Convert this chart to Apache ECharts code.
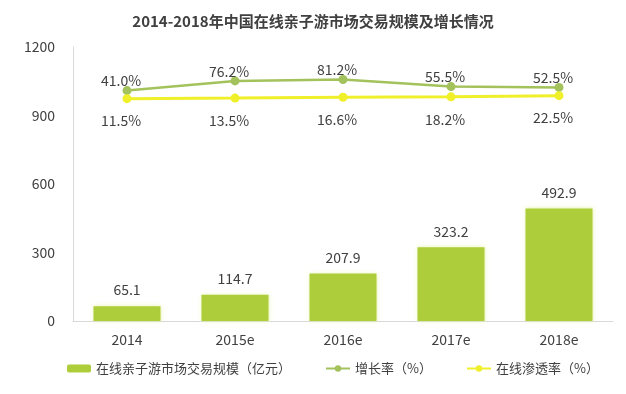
<!DOCTYPE html>
<html>
<head>
<meta charset="utf-8">
<script src="https://cdn.jsdelivr.net/npm/echarts@6/dist/echarts.min.js"></script>
<style>html,body{margin:0;padding:0;background:#fff;}#c{width:626px;height:394px;}</style>
</head>
<body>
<div id="c"></div>
<script>
const categories = ['2014', '2015e', '2016e', '2017e', '2018e'];
const marketSize = [65.1, 114.7, 207.9, 323.2, 492.9];
const growthRate = [41.0, 76.2, 81.2, 55.5, 52.5];
const penetration = [11.5, 13.5, 16.6, 18.2, 22.5];
const yTicks = [0, 300, 600, 900, 1200];
const seriesNames = ['在线亲子游市场交易规模（亿元）', '增长率（%）', '在线渗透率（%）'];

const FONT = '"Noto Sans CJK SC", "Noto Sans", sans-serif';
const chart = echarts.init(document.getElementById('c'), null, {renderer: 'canvas'});
chart.setOption({
  animation: false,
  backgroundColor: '#ffffff',
  textStyle: {fontFamily: FONT},
  title: {
    text: '2014-2018年中国在线亲子游市场交易规模及增长情况',
    left: 'center',
    top: 9,
    textStyle: {fontSize: 15, fontWeight: 'bold', color: '#404040', fontFamily: FONT}
  },
  legend: {
    data: seriesNames,
    left: 62,
    top: 357,
    itemWidth: 24,
    itemHeight: 8,
    itemGap: 34,
    textStyle: {fontSize: 13, color: '#404040', fontFamily: FONT}
  },
  grid: {left: 73, right: 13, top: 47, bottom: 73},
  xAxis: {
    type: 'category',
    data: categories,
    axisLine: {lineStyle: {color: '#d9d9d9', width: 1}},
    axisTick: {show: false},
    axisLabel: {color: '#404040', fontSize: 14, margin: 12, fontFamily: FONT}
  },
  yAxis: [
    {
      type: 'value',
      min: yTicks[0],
      max: yTicks[yTicks.length - 1],
      interval: yTicks[1] - yTicks[0],
      axisLine: {show: true, lineStyle: {color: '#d9d9d9', width: 1}},
      axisTick: {show: false},
      splitLine: {show: false},
      axisLabel: {color: '#404040', fontSize: 14, margin: 18, fontFamily: FONT,
        formatter: v => String(v)}
    },
    {
      type: 'value',
      min: -800,
      max: 200,
      show: false,
      splitLine: {show: false}
    }
  ],
  series: [
    {
      name: seriesNames[0],
      type: 'bar',
      data: marketSize,
      barWidth: 67,
      itemStyle: {color: '#adcd3a', shadowColor: 'rgba(225,240,150,0.8)', shadowBlur: 4},
      label: {
        show: true, position: 'top', distance: 9,
        color: '#404040', fontSize: 14, fontFamily: FONT,
        formatter: p => p.value.toFixed(1)
      }
    },
    {
      name: seriesNames[1],
      type: 'line',
      yAxisIndex: 1,
      data: growthRate,
      symbol: 'circle',
      symbolSize: 9,
      lineStyle: {color: '#a3c25c', width: 2.5},
      itemStyle: {color: '#a3c25c'},
      label: {
        show: true, position: 'top', distance: -2, offset: [-6, 0],
        color: '#404040', fontSize: 14, fontFamily: FONT,
        formatter: p => p.value.toFixed(1) + '%'
      }
    },
    {
      name: seriesNames[2],
      type: 'line',
      yAxisIndex: 1,
      data: penetration,
      symbol: 'circle',
      symbolSize: 9,
      lineStyle: {color: '#f0f02a', width: 3},
      itemStyle: {color: '#f0f02a'},
      label: {
        show: true, position: 'bottom', distance: 11, offset: [-6, 0],
        color: '#404040', fontSize: 14, fontFamily: FONT,
        formatter: p => p.value.toFixed(1) + '%'
      }
    }
  ]
});
</script>
</body>
</html>
